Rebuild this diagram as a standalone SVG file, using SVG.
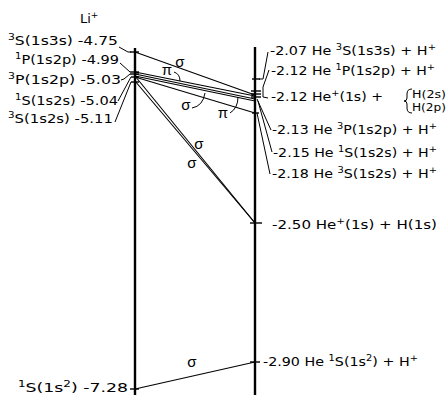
<svg xmlns="http://www.w3.org/2000/svg" width="448" height="395" viewBox="0 0 448 395">
<style>
text { font-family: "DejaVu Sans", "Liberation Sans", sans-serif; font-size: 13px; fill: #000; }
.sup { font-size: 9px; }
.sm { font-size: 11px; }
.gr { font-family: "Liberation Sans", "DejaVu Sans", sans-serif; font-size: 15px; text-anchor: middle; }
.ax { stroke: #000; stroke-width: 2.4; fill: none; }
.tk { stroke: #000; stroke-width: 1.4; fill: none; }
.ln { stroke: #000; stroke-width: 1.1; fill: none; }
.ld { stroke: #000; stroke-width: 1; fill: none; }
</style>
<rect width="448" height="395" fill="#fff"/>
<g id="axes">
<line x1="135" y1="48" x2="135" y2="395" class="ax"/>
<line x1="255" y1="47" x2="255" y2="395" class="ax"/>
<text x="80" y="23">Li<tspan class="sup" dy="-5">+</tspan></text>
</g>
<g id="left-levels">
<g id="L-3S-1s3s">
<line x1="130" y1="52" x2="139" y2="52" class="tk"/>
<polyline points="119,47 128,52 131,52" class="ld"/>
<text x="8" y="45" textLength="110" lengthAdjust="spacingAndGlyphs"><tspan class="sup" dy="-5">3</tspan><tspan dy="5">S(1s3s) -4.75</tspan></text>
</g>
<g id="L-1P-1s2p">
<line x1="130" y1="72" x2="139" y2="72" class="tk"/>
<line x1="120" y1="63" x2="130" y2="72" class="ld"/>
<text x="15" y="64" textLength="104" lengthAdjust="spacingAndGlyphs"><tspan class="sup" dy="-5">1</tspan><tspan dy="5">P(1s2p) -4.99</tspan></text>
</g>
<g id="L-3P-1s2p">
<line x1="130" y1="74" x2="139" y2="74" class="tk"/>
<polyline points="121,80 124,79 130,74" class="ld"/>
<text x="8" y="84" textLength="113" lengthAdjust="spacingAndGlyphs"><tspan class="sup" dy="-5">3</tspan><tspan dy="5">P(1s2p) -5.03</tspan></text>
</g>
<g id="L-1S-1s2s">
<line x1="131" y1="77" x2="139" y2="77" class="tk"/>
<line x1="118" y1="101" x2="131" y2="77" class="ld"/>
<text x="15" y="105" textLength="103" lengthAdjust="spacingAndGlyphs"><tspan class="sup" dy="-5">1</tspan><tspan dy="5">S(1s2s) -5.04</tspan></text>
</g>
<g id="L-3S-1s2s">
<line x1="131" y1="82" x2="139" y2="82" class="tk"/>
<line x1="115" y1="122" x2="131" y2="82" class="ld"/>
<text x="8" y="123" textLength="105" lengthAdjust="spacingAndGlyphs"><tspan class="sup" dy="-5">3</tspan><tspan dy="5">S(1s2s) -5.11</tspan></text>
</g>
<g id="L-1S-1s2">
<line x1="130" y1="389" x2="139" y2="389" class="tk"/>
<text x="18" y="392" textLength="110" lengthAdjust="spacingAndGlyphs"><tspan class="sup" dy="-5">1</tspan><tspan dy="5">S(1s</tspan><tspan class="sup" dy="-5">2</tspan><tspan dy="5">) -7.28</tspan></text>
</g>
</g>
<g id="right-levels">
<g id="R-2.07">
<line x1="252" y1="79" x2="260" y2="79" class="tk"/>
<polyline points="268,52 263,79 259,79" class="ld"/>
<text x="270" y="55" textLength="166" lengthAdjust="spacingAndGlyphs">-2.07 He <tspan class="sup" dy="-5">3</tspan><tspan dy="5">S(1s3s) + H</tspan><tspan class="sup" dy="-5">+</tspan></text>
</g>
<g id="R-2.12a">
<line x1="251" y1="91" x2="261" y2="91" class="tk"/>
<line x1="269" y1="70" x2="263" y2="87" class="ld"/>
<text x="271" y="75" textLength="164" lengthAdjust="spacingAndGlyphs">-2.12 He <tspan class="sup" dy="-5">1</tspan><tspan dy="5">P(1s2p) + H</tspan><tspan class="sup" dy="-5">+</tspan></text>
</g>
<g id="R-2.12b">
<line x1="251" y1="94" x2="261" y2="94" class="tk"/>
<polyline points="263,87 263,97 268,98" class="ld"/>
<text x="271" y="101" textLength="112" lengthAdjust="spacingAndGlyphs">-2.12  He<tspan class="sup" dy="-5">+</tspan><tspan dy="5">(1s) +</tspan></text>
<path d="M412,89 Q407,89 407,94 L407,98 Q407,101 404,101 Q407,101 407,104 L407,108 Q407,113 412,113" class="ld" stroke-width="1.2"/>
<text class="sm" x="412" y="98" textLength="34" lengthAdjust="spacingAndGlyphs">H(2s)</text>
<text class="sm" x="412" y="111" textLength="34" lengthAdjust="spacingAndGlyphs">H(2p)</text>
</g>
<g id="R-2.13">
<line x1="251" y1="97" x2="261" y2="97" class="tk"/>
<line x1="257" y1="99" x2="271" y2="130" class="ld"/>
<text x="272" y="134" textLength="165" lengthAdjust="spacingAndGlyphs">-2.13 He <tspan class="sup" dy="-5">3</tspan><tspan dy="5">P(1s2p) + H</tspan><tspan class="sup" dy="-5">+</tspan></text>
</g>
<g id="R-2.15">
<line x1="258" y1="101" x2="272" y2="152" class="ld"/>
<text x="273" y="157" textLength="164" lengthAdjust="spacingAndGlyphs">-2.15 He <tspan class="sup" dy="-5">1</tspan><tspan dy="5">S(1s2s) + H</tspan><tspan class="sup" dy="-5">+</tspan></text>
</g>
<g id="R-2.18">
<line x1="252" y1="113" x2="259" y2="113" class="tk"/>
<line x1="257" y1="113" x2="270" y2="174" class="ld"/>
<text x="272" y="178" textLength="165" lengthAdjust="spacingAndGlyphs">-2.18 He <tspan class="sup" dy="-5">3</tspan><tspan dy="5">S(1s2s) + H</tspan><tspan class="sup" dy="-5">+</tspan></text>
</g>
<g id="R-2.50">
<line x1="250" y1="223" x2="262" y2="223" class="tk"/>
<text x="272" y="229" textLength="165" lengthAdjust="spacingAndGlyphs">-2.50 He<tspan class="sup" dy="-5">+</tspan><tspan dy="5">(1s)  +  H(1s)</tspan></text>
</g>
<g id="R-2.90">
<line x1="250" y1="362" x2="260" y2="362" class="tk"/>
<text x="263" y="366" textLength="155" lengthAdjust="spacingAndGlyphs">-2.90 He <tspan class="sup" dy="-5">1</tspan><tspan dy="5">S(1s</tspan><tspan class="sup" dy="-5">2</tspan><tspan dy="5">) + H</tspan><tspan class="sup" dy="-5">+</tspan></text>
</g>
</g>
<g id="connectors">
<line x1="135" y1="52" x2="255" y2="95" class="ln"/>
<line x1="135" y1="72" x2="255" y2="96" class="ln" stroke-width="2.8"/>
<line x1="135" y1="74" x2="255" y2="99" class="ln" stroke-width="1.5"/>
<line x1="135" y1="76" x2="255" y2="101" class="ln"/>
<line x1="135" y1="77" x2="255" y2="113" class="ln"/>
<line x1="135" y1="76" x2="255" y2="223" class="ln"/>
<line x1="135" y1="81" x2="255" y2="223" class="ln"/>
<line x1="135" y1="389" x2="255" y2="362" class="ln"/>
<path d="M174,72 Q180,74 180,81" class="ld"/>
<path d="M192,108 Q203,106 205,93" class="ld"/>
<path d="M230,113 Q238,108 238,97" class="ld"/>
<text class="gr" x="180" y="67">σ</text>
<text class="gr" x="167" y="75">π</text>
<text class="gr" x="186" y="110">σ</text>
<text class="gr" x="223" y="118">π</text>
<text class="gr" x="199" y="149">σ</text>
<text class="gr" x="192" y="168">σ</text>
<text class="gr" x="192" y="367">σ</text>
</g>
</svg>
